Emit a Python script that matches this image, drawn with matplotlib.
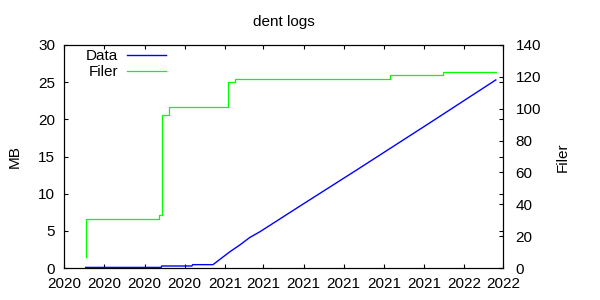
import matplotlib
matplotlib.use("Agg")
import matplotlib.pyplot as plt
import matplotlib.dates as mdates
import numpy as np
import pandas as pd

title = "dent logs"
data_label = "Data"
filer_label = "Filer"

data_dates = ["2020-06-03", "2020-09-26", "2020-09-27", "2020-11-12", "2020-11-13",
              "2020-12-14", "2021-01-09", "2021-01-24", "2021-02-08", "2021-02-24",
              "2021-04-25", "2021-07-23", "2021-11-09", "2022-02-18"]
data_mb = [0.08, 0.08, 0.27, 0.27, 0.45, 0.45, 2.2, 3.1, 4.1, 4.9, 8.3, 13.3, 19.5, 25.3]

filer_dates = ["2020-06-03", "2020-06-04", "2020-09-23", "2020-09-27", "2020-10-08",
               "2021-01-06", "2021-01-17", "2021-09-10", "2021-11-29", "2022-02-18"]
filer_count = [7, 31, 33, 96, 101, 116.5, 118.5, 121, 123, 123]

x_range = ["2020-05-01", "2022-03-01"]
mb_ticks = [0, 5, 10, 15, 20, 25, 30]
filer_ticks = [0, 20, 40, 60, 80, 100, 120, 140]

plt.rcParams['font.family'] = ['Liberation Sans', 'DejaVu Sans']
FS = 11

fig = plt.figure(figsize=(6, 3), dpi=100)
ax = fig.add_axes([64/600, 32/300, 439/600, 223/300])
ax2 = ax.twinx()

dd = pd.to_datetime(data_dates)
fd = pd.to_datetime(filer_dates)

l1, = ax.plot(dd, data_mb, color='#0000ff', lw=1.0, label=data_label)
l2, = ax2.plot(fd, filer_count, color='#00ff00', lw=0.9, drawstyle='steps-post', label=filer_label)

ax.set_xlim(pd.to_datetime(x_range[0]), pd.to_datetime(x_range[1]))
ax.set_ylim(mb_ticks[0], mb_ticks[-1])
ax2.set_ylim(filer_ticks[0], filer_ticks[-1])
ax.set_yticks(mb_ticks)
ax2.set_yticks(filer_ticks)
ax.xaxis.set_major_locator(mdates.MonthLocator(bymonth=[1, 3, 5, 7, 9, 11]))
ax.xaxis.set_major_formatter(mdates.DateFormatter('%Y'))

ax.tick_params(axis='both', direction='in', length=3, width=0.8, labelsize=FS,
               top=True, right=True, colors='black')
ax.tick_params(axis='y', pad=6.5)
ax.tick_params(axis='x', pad=6.5)
ax2.tick_params(axis='y', direction='in', length=3, width=0.8, labelsize=FS, pad=9,
                left=False, right=True)
for a in (ax, ax2):
    for s in a.spines.values():
        s.set_linewidth(0.8)
        s.set_color('black')

fig.text(283.5/600, 1 - 22/300, title, ha='center', va='center', fontsize=FS)
fig.text(15/600, 1 - 157/300, "MB", rotation=90, ha='center', va='center', fontsize=FS)
fig.text(563/600, 1 - 157/300, "Filer", rotation=90, ha='center', va='center', fontsize=FS)

leg = ax.legend(handles=[l1, l2], loc='upper left', bbox_to_anchor=(0.043, 0.995),
                frameon=False, markerfirst=False, fontsize=FS, handlelength=2.55,
                handletextpad=0.6, labelspacing=0.15, borderaxespad=0.0, borderpad=0.2)

fig.savefig("out.png", dpi=100)
